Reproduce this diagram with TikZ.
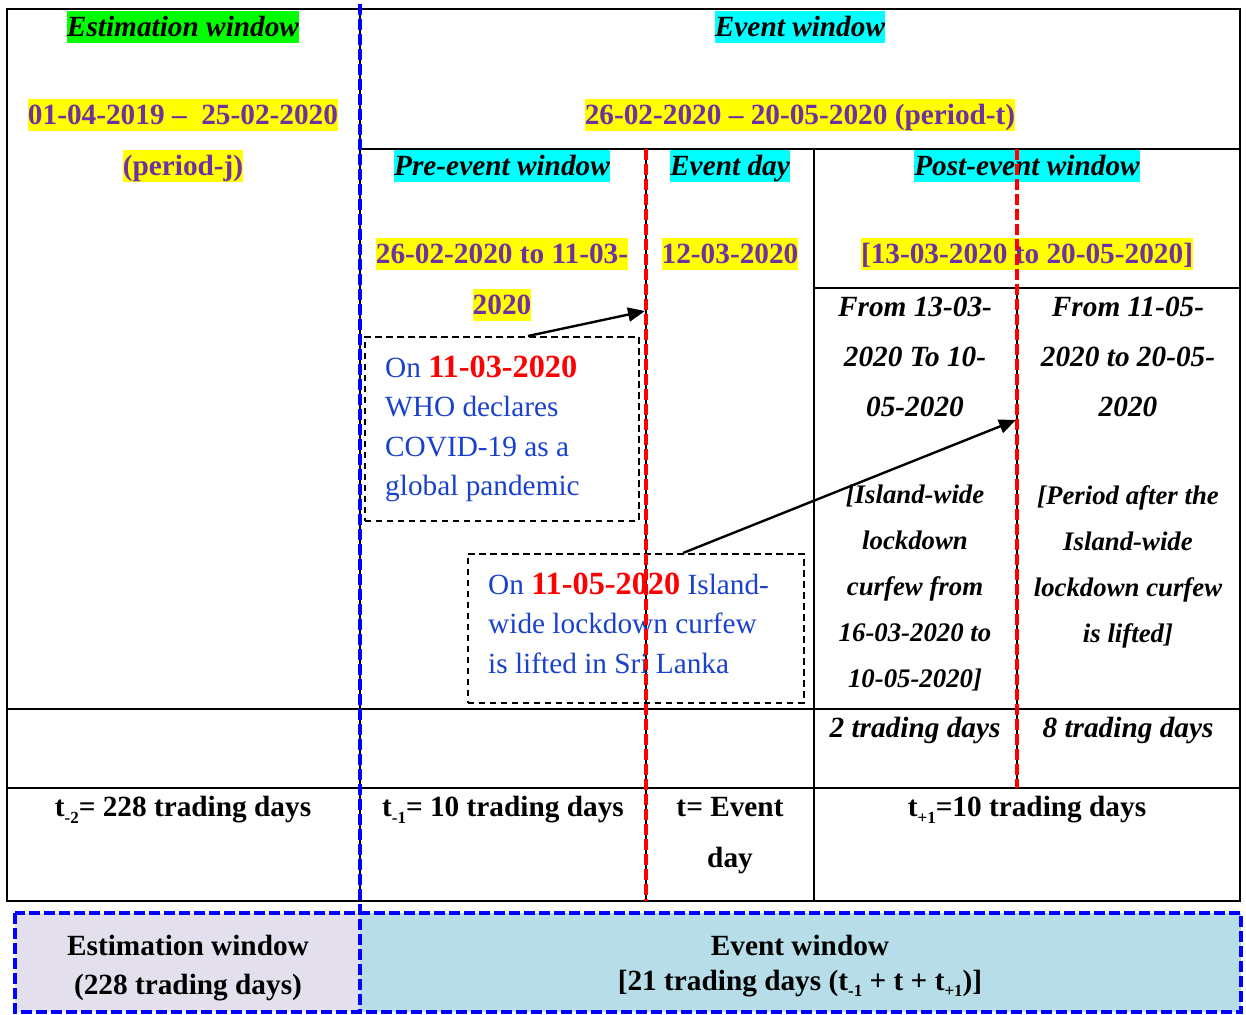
\documentclass[tikz,border=0pt]{standalone}
\usepackage{fontspec}
\setmainfont{Liberation Serif}
\usetikzlibrary{arrows.meta}
\definecolor{hlyellow}{RGB}{255,255,0}
\definecolor{hlgreen}{RGB}{0,255,0}
\definecolor{hlcyan}{RGB}{0,255,255}
\definecolor{datepurple}{RGB}{112,48,160}
\definecolor{noteblue}{RGB}{25,65,205}
\definecolor{estfill}{RGB}{228,223,236}
\definecolor{evfill}{RGB}{183,222,232}
\newcommand\fsz{\fontsize{29.3}{35}\selectfont}
\newcommand\mysub[1]{\raisebox{-0.22em}{\fontsize{17}{17}\selectfont #1}}
\newcommand\reddate[1]{\textcolor{red}{\fontsize{32.3}{39.3}\selectfont\bfseries #1}}
\begin{document}
\begin{tikzpicture}[x=1pt,y=-1pt,
  hl/.style={inner sep=0pt, text height=26.1pt, text depth=6.3pt, font=\fsz\bfseries},
  datehl/.style={hl, fill=hlyellow, text=datepurple},
  headhl/.style={hl, font=\fsz\bfseries\itshape},
  cellfifty/.style={inner sep=0pt, align=center, anchor=north, font=\fontsize{29.3}{50}\selectfont\bfseries\itshape},
  cellsix/.style={inner sep=0pt, align=center, anchor=north, font=\fontsize{26.8}{46}\selectfont\bfseries\itshape},
  notebox/.style={draw=black, line width=1.5pt, dash pattern=on 6.5pt off 4.5pt, inner sep=0pt, anchor=north west},
  notetext/.style={inner sep=0pt, anchor=north west, align=left, text=noteblue, font=\fontsize{29.3}{39.3}\selectfont},
  grid/.style={draw=black, line width=2pt},
  bluedash/.style={draw={rgb,255:red,0;green,0;blue,255}, line width=4.8pt, dash pattern=on 11pt off 4pt},
  reddash/.style={draw=red, line width=4.8pt, dash pattern=on 11pt off 4pt},
  arr/.style={draw=black, line width=2.4pt, -{Triangle[length=17pt,width=14pt]}}
]
\useasboundingbox (0,0) rectangle (1246,1014);
\fill[white] (0,0) rectangle (1246,1014);

% bottom band
\fill[estfill] (15,913) rectangle (360,1012);
\fill[evfill] (360,913) rectangle (1241,1012);
\draw[bluedash] (15,913) rectangle (1241,1012);

% table grid
\draw[grid] (7,9) rectangle (1240,901);
\draw[grid] (360,9) -- (360,901);
\draw[grid] (360,149) -- (1240,149);
\draw[grid] (646,149) -- (646,901);
\draw[grid] (814,149) -- (814,901);
\draw[grid] (814,288) -- (1240,288);
\draw[grid] (1017,288) -- (1017,788);
\draw[grid] (7,709) -- (1240,709);
\draw[grid] (7,788) -- (1240,788);

% headers
\node[headhl, fill=hlgreen] (esthead) at (183,27) {Estimation window};
\node[datehl] (estdate) at (183,115) {01-04-2019 –\ \ 25-02-2020};
\node[datehl] (estper) at (183,166) {(period-j)};
\node[headhl, fill=hlcyan] (evhead) at (800,27) {Event window};
\node[datehl] (evdate) at (800,115) {26-02-2020 – 20-05-2020 (period-t)};
\node[headhl, fill=hlcyan] (prehead) at (502,166) {Pre-event window};
\node[headhl, fill=hlcyan] (dayhead) at (730,166) {Event day};
\node[headhl, fill=hlcyan] (posthead) at (1027,166) {Post-event window};
\node[datehl] (predate) at (502,254) {26-02-2020 to 11-03-};
\node[datehl] (predatetwo) at (502,305) {2020};
\node[datehl] (daydate) at (730,254) {12-03-2020};
\node[datehl] (postdate) at (1027,254) {[13-03-2020 to 20-05-2020]};

% post-event sub cells
\node[cellfifty] (fromone) at (915,297) {From 13-03-\\2020 To 10-\\05-2020};
\node[cellsix] (lockone) at (915,485) {[Island-wide\\lockdown\\curfew from\\16-03-2020 to\\10-05-2020]};
\node[cellfifty] (fromtwo) at (1128,297) {From 11-05-\\2020 to 20-05-\\2020};
\node[cellsix] (locktwo) at (1128,485) {[Period after the\\Island-wide\\lockdown curfew\\is lifted]};
\node[headhl] (tdtwo) at (915,728) {2 trading days};
\node[headhl] (tdeight) at (1128,728) {8 trading days};

% trading day row
\node[hl] (tmtwo) at (183,807) {t\mysub{-2}= 228 trading days};
\node[hl] (tmone) at (503,807) {t\mysub{-1}= 10 trading days};
\node[inner sep=0pt, align=center, anchor=north, font=\fontsize{29.3}{51}\selectfont\bfseries] (tev) at (730,797) {t= Event\\day};
\node[hl] (tpone) at (1027,807) {t\mysub{+1}=10 trading days};

% note boxes
\node[notebox, minimum width=274pt, minimum height=184pt] (whobox) at (364,336) {};
\node[notetext] (whotext) at (385,356) {On \reddate{11-03-2020}\\WHO declares\\COVID-19 as a\\global pandemic};
\node[notebox, minimum width=336pt, minimum height=149pt] (liftbox) at (467,553) {};
\node[notetext] (lifttext) at (488,573) {On \reddate{11-05-2020} Island-\\wide lockdown curfew\\is lifted in Sri Lanka};

% bottom band text
\node[inner sep=0pt, align=center, anchor=north, font=\fontsize{29.3}{39}\selectfont\bfseries] (bestim) at (188,935) {Estimation window\\(228 trading days)};
\node[inner sep=0pt, align=center, anchor=north, font=\fontsize{29.3}{35}\selectfont\bfseries] (bevent) at (800,935) {Event window\\{[}21 trading days (t\mysub{-1} + t + t\mysub{+1})]};

% dashed separators
\draw[bluedash] (360,4) -- (360,1014);
\draw[reddash] (646,149) -- (646,901);
\draw[reddash] (1017,149) -- (1017,788);

% arrows
\coordinate (aones) at (528,336);
\coordinate (aonee) at (645,311);
\coordinate (atwos) at (683,553);
\coordinate (atwoe) at (1016,420);
\draw[arr] (aones) -- (aonee);
\draw[arr] (atwos) -- (atwoe);
\end{tikzpicture}
\end{document}
